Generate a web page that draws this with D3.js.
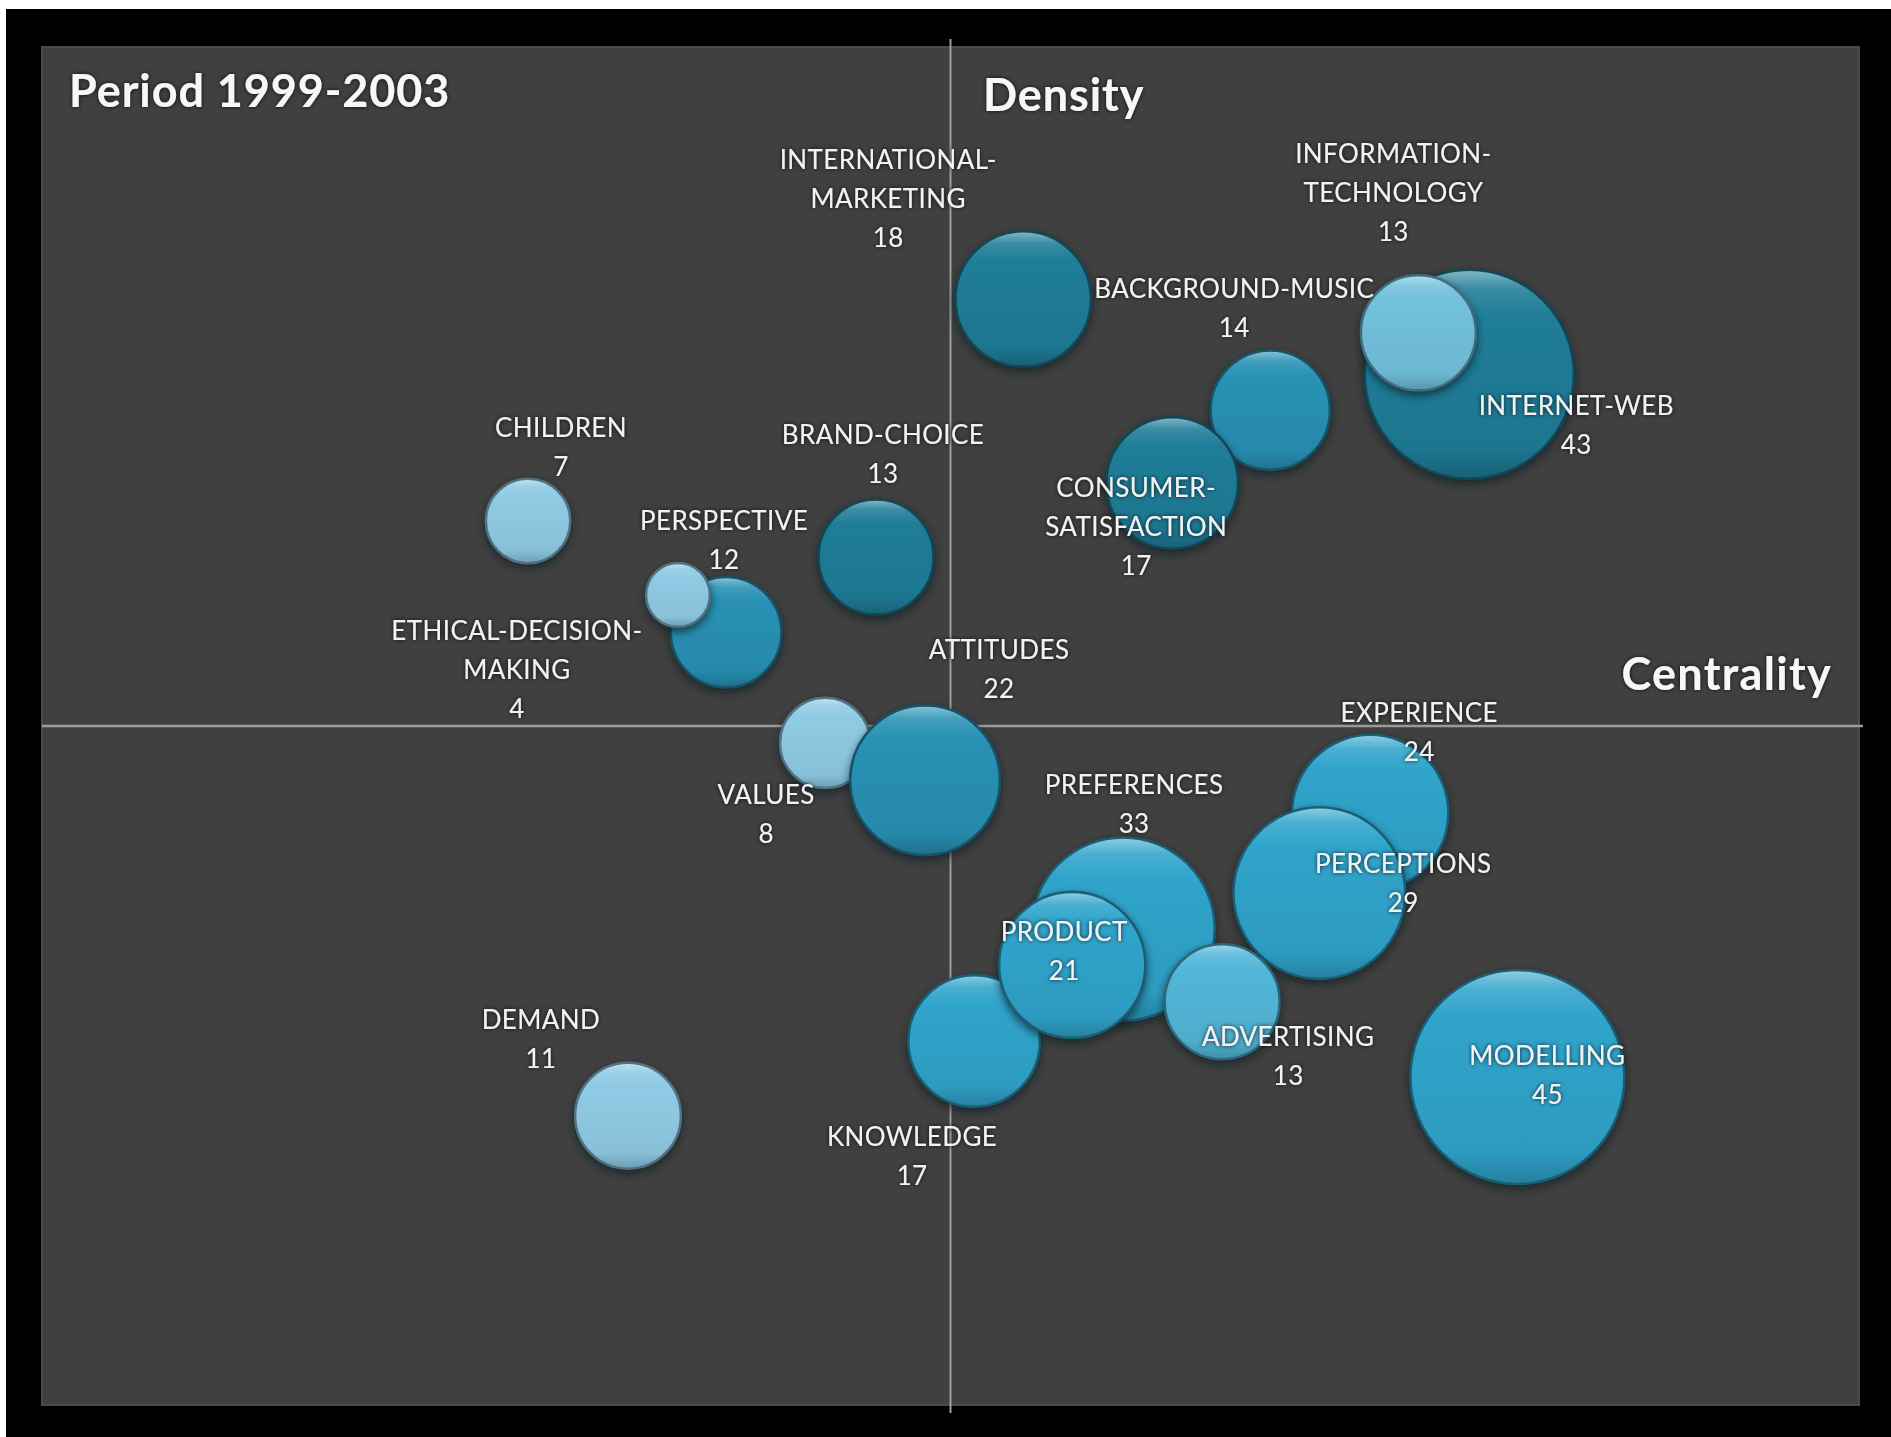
<!DOCTYPE html>
<html>
<head>
<meta charset="utf-8">
<script src="https://cdn.jsdelivr.net/npm/d3@7"></script>
<style>
  html, body { margin: 0; padding: 0; background: #ffffff; overflow: hidden; }
  svg { display: block; }
</style>
</head>
<body>
<svg id="chart" width="1891" height="1437"></svg>
<script>
// Strategic diagram, period 1999-2003: themes placed by centrality (x) and density (y),
// bubble area proportional to the number of documents in each theme.
const themes = [
  "INTERNATIONAL-MARKETING", "BACKGROUND-MUSIC", "CONSUMER-SATISFACTION", "INTERNET-WEB",
  "INFORMATION-TECHNOLOGY", "CHILDREN", "BRAND-CHOICE", "PERSPECTIVE",
  "ETHICAL-DECISION-MAKING", "VALUES", "ATTITUDES", "EXPERIENCE", "PERCEPTIONS",
  "PREFERENCES", "KNOWLEDGE", "PRODUCT", "ADVERTISING", "MODELLING", "DEMAND"
];
const documents = [18, 14, 17, 43, 13, 7, 13, 12, 4, 8, 22, 24, 29, 33, 17, 21, 13, 45, 11];
const centrality = [0.080, 0.352, 0.244, 0.571, 0.515, -0.465, -0.082, -0.247, -0.300, -0.138,
                    -0.028, 0.462, 0.406, 0.190, 0.026, 0.134, 0.299, 0.624, -0.355];
const density = [0.629, 0.465, 0.358, 0.518, 0.579, 0.302, 0.249, 0.138, 0.193, -0.025,
                 -0.080, -0.128, -0.246, -0.299, -0.464, -0.352, -0.406, -0.517, -0.574];
// shade class of each theme bubble
const shade = ["deep", "mid", "deep", "deep", "sky", "pale", "deep", "mid", "pale", "pale",
               "mid", "bright", "bright", "bright", "bright", "bright", "soft", "bright", "pale"];

const titleText = "Period 1999-2003";
const yAxisTitle = "Density";
const xAxisTitle = "Centrality";

// ---- layout ----
const W = 1891, H = 1437;
const panel = { x0: 42, x1: 1859, y0: 47, y1: 1405 };

// label anchor offsets from bubble centre: [dx to text centre, dy to first baseline]
const labelOffset = {
  "INTERNATIONAL-MARKETING": [-135, -130],
  "BACKGROUND-MUSIC": [-36, -112],
  "CONSUMER-SATISFACTION": [-36, 14],
  "INTERNET-WEB": [107, 41],
  "INFORMATION-TECHNOLOGY": [-25, -170],
  "CHILDREN": [33, -84],
  "BRAND-CHOICE": [7, -113],
  "PERSPECTIVE": [-2, -102],
  "ETHICAL-DECISION-MAKING": [-161, 45],
  "VALUES": [-59, 61],
  "ATTITUDES": [74, -121],
  "EXPERIENCE": [49, -91],
  "PERCEPTIONS": [84, -20],
  "PREFERENCES": [11, -135],
  "KNOWLEDGE": [-62, 105],
  "PRODUCT": [-8, -24],
  "ADVERTISING": [66, 44],
  "MODELLING": [30, -12],
  "DEMAND": [-87, -87]
};

const shadeColor = d3.scaleOrdinal()
  .domain(["deep", "mid", "bright", "soft", "sky", "pale"])
  .range(["#1f7d98", "#2891b4", "#30a4cb", "#52b6d8", "#72c1dd", "#8fcbe4"]);

const x = d3.scaleLinear().domain([-1, 1]).range([panel.x0, panel.x1]);
const y = d3.scaleLinear().domain([-1, 1]).range([panel.y1, panel.y0]);
const r = d3.scaleSqrt().domain([0, 45]).range([0, 107]);

const data = themes.map((name, i) => ({
  name, value: documents[i], cx: centrality[i], dy: density[i], shade: shade[i]
}));

const svg = d3.select("#chart");
const defs = svg.append("defs");

// bubble gradients: bevel light rim on top, darker towards the bottom
shadeColor.domain().forEach(k => {
  const base = d3.color(shadeColor(k));
  const g = defs.append("linearGradient")
    .attr("id", "g-" + k).attr("x1", 0).attr("y1", 0).attr("x2", 0).attr("y2", 1);
  g.append("stop").attr("offset", "0%").attr("stop-color", d3.interpolateRgb(base, "#ffffff")(0.45));
  g.append("stop").attr("offset", "9%").attr("stop-color", d3.interpolateRgb(base, "#ffffff")(0.12));
  g.append("stop").attr("offset", "22%").attr("stop-color", base.formatHex());
  g.append("stop").attr("offset", "85%").attr("stop-color", base.darker(0.15).formatHex());
  g.append("stop").attr("offset", "100%").attr("stop-color", base.darker(0.7).formatHex());
});

const shadowF = defs.append("filter").attr("id", "bshadow")
  .attr("x", "-30%").attr("y", "-30%").attr("width", "160%").attr("height", "160%");
shadowF.append("feGaussianBlur").attr("stdDeviation", 4);

const textF = defs.append("filter").attr("id", "tglow")
  .attr("x", "-10%").attr("y", "-30%").attr("width", "120%").attr("height", "160%");
textF.append("feGaussianBlur").attr("in", "SourceAlpha").attr("stdDeviation", 2.2).attr("result", "b");
textF.append("feFlood").attr("flood-color", "#101010").attr("flood-opacity", 0.85);
textF.append("feComposite").attr("in2", "b").attr("operator", "in").attr("result", "s");
const tm = textF.append("feMerge");
tm.append("feMergeNode").attr("in", "s");
tm.append("feMergeNode").attr("in", "SourceGraphic");

// frame
svg.append("rect").attr("x", 6).attr("y", 9).attr("width", W - 6).attr("height", H - 9).attr("fill", "#000");
svg.append("rect")
  .attr("x", panel.x0).attr("y", panel.y0)
  .attr("width", panel.x1 - panel.x0).attr("height", panel.y1 - panel.y0)
  .attr("fill", "#404040").attr("stroke", "#4a4a4a").attr("stroke-width", 2);

// quadrant axes through the origin
svg.append("line")
  .attr("x1", x(0)).attr("x2", x(0)).attr("y1", panel.y0 - 8).attr("y2", panel.y1 + 8)
  .attr("stroke", "#9c9c9c").attr("stroke-width", 2);
svg.append("line")
  .attr("x1", panel.x0).attr("x2", panel.x1 + 4).attr("y1", y(0)).attr("y2", y(0))
  .attr("stroke", "#9c9c9c").attr("stroke-width", 2.5);

// bubbles
const bub = svg.append("g").selectAll("g").data(data).join("g")
  .attr("transform", d => `translate(${x(d.cx)},${y(d.dy)})`);
bub.append("circle")
  .attr("cy", 4).attr("r", d => r(d.value) + 1)
  .attr("fill", "#0b1e24").attr("opacity", 0.75).attr("filter", "url(#bshadow)");
bub.append("circle")
  .attr("r", d => r(d.value))
  .attr("fill", d => `url(#g-${d.shade})`)
  .attr("stroke", d => d3.color(shadeColor(d.shade)).darker(1.6).formatHex())
  .attr("stroke-width", 2.5);

// labels: theme name (wrapped after its last hyphen when long) and document count
const labels = svg.append("g")
  .attr("font-family", "Lato, 'Open Sans', sans-serif")
  .attr("font-size", 26)
  .attr("letter-spacing", 0.4)
  .attr("fill", "#f2f2f2")
  .attr("text-anchor", "middle")
  .attr("filter", "url(#tglow)");
data.forEach(d => {
  let lines = [d.name];
  if (d.name.length > 16) {
    const k = d.name.lastIndexOf("-");
    lines = [d.name.slice(0, k + 1), d.name.slice(k + 1)];
  }
  lines.push(String(d.value));
  const [ox, oy] = labelOffset[d.name];
  const t = labels.append("text")
    .attr("x", x(d.cx) + ox).attr("y", y(d.dy) + oy);
  lines.forEach((s, j) => {
    t.append("tspan").attr("x", x(d.cx) + ox).attr("dy", j === 0 ? 0 : 39).text(s);
  });
});

// titles
const titles = svg.append("g")
  .attr("font-family", "Lato, 'Open Sans', sans-serif")
  .attr("font-weight", 700).attr("font-size", 45).attr("fill", "#f7f7f7")
  .attr("letter-spacing", 0.9)
  .attr("filter", "url(#tglow)");
titles.append("text").attr("x", 69).attr("y", 107).text(titleText);
titles.append("text").attr("x", 983).attr("y", 111).text(yAxisTitle);
titles.append("text").attr("x", 1832).attr("y", 690).attr("text-anchor", "end")
  .attr("letter-spacing", 1.3).text(xAxisTitle);
</script>
</body>
</html>
